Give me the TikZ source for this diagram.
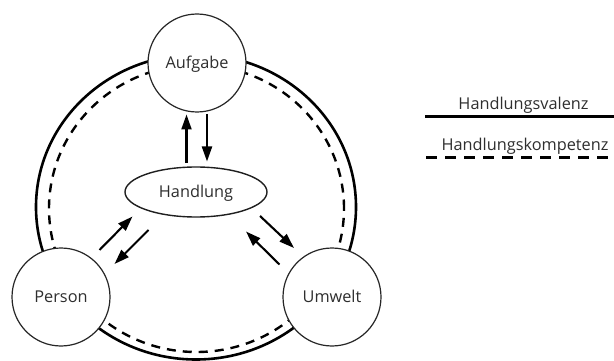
\documentclass[tikz,border=0pt]{standalone}
\usepackage{fontspec}
\setmainfont{Open Sans}
\usetikzlibrary{arrows.meta,shapes.geometric}
\begin{document}
\begin{tikzpicture}[x=1pt,y=-1pt,
  ring/.style={line width=2.6pt},
  dashring/.style={line width=2.4pt, dash pattern=on 9pt off 7pt},
  lab/.style={font=\fontsize{16.3}{19}\selectfont, text=black!82},
  circ/.style={lab, circle, draw=black!85, line width=1.2pt, fill=white,
    minimum size=98pt, inner sep=0pt, text height=11.5pt, text depth=0pt},
  oval/.style={lab, ellipse, draw=black!88, line width=1.4pt, fill=white,
    minimum width=142pt, minimum height=50pt, inner sep=0pt, text height=11.5pt, text depth=0pt},
  arr/.style={line width=2.1pt, -{Triangle[length=15pt,width=10pt]}}
]
\useasboundingbox (0,0) rectangle (614,361);
% rings
\draw[ring] (196,207) ellipse [x radius=160pt, y radius=152.5pt];
\draw[dashring] (196.5,208.5) ellipse [x radius=147.5pt, y radius=143.5pt];
% nodes
\node[circ] (auf) at (197,63) {Aufgabe};
\node[circ] (per) at (61,297) {Person};
\node[circ] (umw) at (332,297) {Umwelt};
\node[oval] (hand) at (196,192) {Handlung};
% arrow end points
\coordinate (a1s) at (186.5,163);
\coordinate (a1e) at (186.5,114.5);
\coordinate (a2s) at (207,114);
\coordinate (a2e) at (207,161.5);
\coordinate (b1s) at (99.5,250);
\coordinate (b1e) at (132.5,216.5);
\coordinate (b2s) at (148.5,230);
\coordinate (b2e) at (114.5,264);
\coordinate (c1s) at (260,216);
\coordinate (c1e) at (294,248);
\coordinate (c2s) at (279.5,264.5);
\coordinate (c2e) at (246,231.5);
\draw[arr] (a1s) -- (a1e);
\draw[arr] (a2s) -- (a2e);
\draw[arr] (b1s) -- (b1e);
\draw[arr] (b2s) -- (b2e);
\draw[arr] (c1s) -- (c1e);
\draw[arr] (c2s) -- (c2e);
% legend
\node[lab, anchor=base] (lv) at (523.5,110) {Handlungsvalenz};
\node[lab, anchor=base] (lk) at (525,150) {Handlungskompetenz};
\coordinate (lvA) at (425,116.5);
\coordinate (lvB) at (614,116.5);
\coordinate (lkA) at (426,157.3);
\coordinate (lkB) at (614,157.3);
\draw[ring] (lvA) -- (lvB);
\draw[dashring, dash pattern=on 11pt off 8pt] (lkA) -- (lkB);
\end{tikzpicture}
\end{document}
